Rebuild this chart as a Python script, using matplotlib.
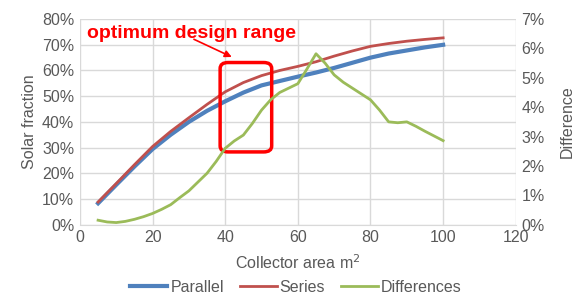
import numpy as np
import matplotlib.pyplot as plt
from matplotlib.patches import FancyBboxPatch
from matplotlib.ticker import PercentFormatter

plt.rcParams['font.family'] = ['Liberation Sans', 'DejaVu Sans']

# Données
area = [5, 10, 15, 20, 25, 30, 35, 40, 45, 50, 55, 60, 65, 70, 75, 80, 85, 90, 95, 100]
parallel = [8.3, 15.5, 22.6, 29.4, 35.0, 40.0, 44.3, 48.0, 51.4, 54.2, 55.9, 57.6,
            59.2, 61.0, 63.0, 65.0, 66.6, 67.8, 69.0, 70.0]
series = [8.8, 16.0, 23.3, 30.4, 36.3, 41.6, 46.8, 51.7, 55.3, 58.0, 60.0, 61.6,
          63.4, 65.6, 67.6, 69.4, 70.5, 71.4, 72.1, 72.7]

diff_area = [5, 7.5, 10, 12.5, 15, 17.5, 20, 22.5, 25, 27.5, 30, 32.5, 35, 37.5, 40,
             42.5, 45, 47.5, 50, 52.5, 55, 57.5, 60, 62.5, 65, 67.5, 70, 72.5, 75,
             77.5, 80, 82.5, 85, 87.5, 90, 92.5, 95, 97.5, 100]
differences = [0.15, 0.09, 0.07, 0.11, 0.18, 0.27, 0.38, 0.52, 0.68, 0.92, 1.15, 1.45,
               1.75, 2.15, 2.6, 2.85, 3.05, 3.45, 3.9, 4.25, 4.5, 4.65, 4.8, 5.3, 5.82,
               5.5, 5.1, 4.85, 4.65, 4.45, 4.25, 3.9, 3.5, 3.47, 3.5, 3.35, 3.18, 3.02,
               2.86]

gris = '#595959'
fig, ax = plt.subplots(figsize=(5.75, 2.94), dpi=100)
fig.subplots_adjust(left=0.139, right=0.897, top=0.935, bottom=0.236)
ax2 = ax.twinx()

l1, = ax.plot(area, parallel, color='#4F81BD', lw=3.0, label='Parallel')
l2, = ax.plot(area, series, color='#C0504D', lw=2.0, label='Series')
l3, = ax2.plot(diff_area, differences, color='#9BBB59', lw=2.0, label='Differences')

ax.set_xlim(0, 120)
ax.set_ylim(0, 80)
ax2.set_ylim(0, 7)
ax.set_xticks(np.arange(0, 121, 20))
ax.set_yticks(np.arange(0, 81, 10))
ax2.set_yticks(np.arange(0, 8, 1))
ax.yaxis.set_major_formatter(PercentFormatter(decimals=0))
ax2.yaxis.set_major_formatter(PercentFormatter(decimals=0))

ax.grid(True, color='#d9d9d9', lw=1.0)
ax.set_axisbelow(True)
for a in (ax, ax2):
    for s in a.spines.values():
        s.set_visible(False)
    a.tick_params(length=0, labelsize=11.5, labelcolor=gris, pad=4)
ax.spines['bottom'].set_visible(True)
ax.spines['bottom'].set_color('#d9d9d9')

ax.set_xlabel('Collector area m$^2$', fontsize=11.5, color=gris, labelpad=6)
ax.set_ylabel('Solar fraction', fontsize=11.5, color=gris)
ax2.set_ylabel('Difference', fontsize=11.5, color=gris, labelpad=11)

# Zone optimale
box = FancyBboxPatch((38.6, 28.3), 14.2, 34.8, boxstyle='round,pad=0,rounding_size=2.2',
                     fill=False, ec='#FF0000', lw=2.5, zorder=5,
                     mutation_aspect=80 / 120 * 1.6)
ax.add_patch(box)
ax.text(2, 74.5, 'optimum design range', color='#FF0000', fontsize=14,
        fontweight='bold', ha='left', va='center')
ax.annotate('', xy=(42.5, 64.8), xytext=(30.7, 72.6),
            arrowprops=dict(arrowstyle='-|>', color='#FF0000', lw=1.2,
                            mutation_scale=10))

fig.legend(handles=[l1, l2, l3], loc='center', bbox_to_anchor=(0.515, 0.022),
           ncol=3, frameon=False, fontsize=11.5, labelcolor=gris,
           handlelength=2.3, columnspacing=1.0, handletextpad=0.2)

fig.savefig('out.png', dpi=100)
